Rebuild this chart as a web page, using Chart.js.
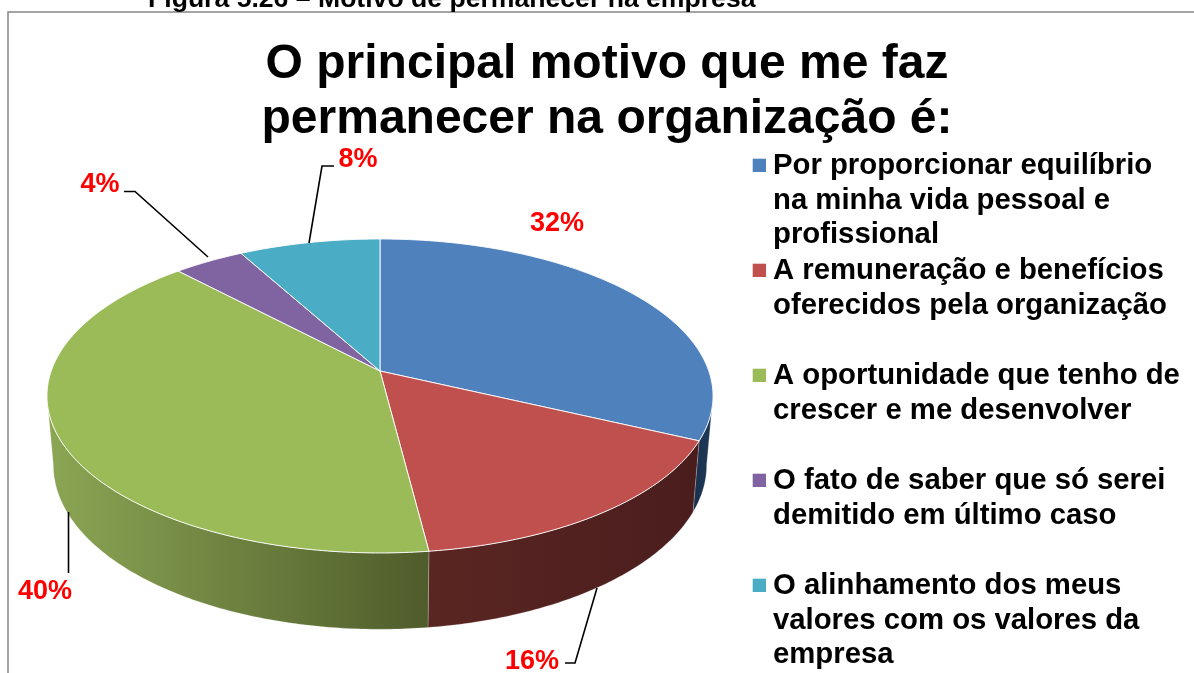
<!DOCTYPE html>
<html><head><meta charset="utf-8">
<style>html,body{margin:0;padding:0;background:#fff;overflow:hidden}
#w{position:absolute;left:0;top:0;width:1194px;height:673px}</style>
<script src="https://cdn.jsdelivr.net/npm/chart.js@4"></script></head>
<body><div id="w"><canvas id="c" width="1194" height="673"></canvas></div>
<script>
const titleLines=["O principal motivo que me faz","permanecer na organização é:"];
const caption="Figura 5.26 – Motivo de permanecer na empresa";
const categories=[["Por proporcionar equilíbrio","na minha vida pessoal e","profissional"],["A remuneração e benefícios","oferecidos pela organização",""],["A oportunidade que tenho de","crescer e me desenvolver",""],["O fato de saber que só serei","demitido em último caso",""],["O alinhamento dos meus","valores com os valores da","empresa"]];
const values=[32,16,40,4,8];
const topColors=["#4f81bd","#c0504d","#9bbb59","#8064a2","#4bacc6"];
const sideDark=[["#1a304c","#1d3a58"],["#5a2622","#4a1d1d"],["#8ba654","#4f5c2b"],["#3f3150","#3f3150"],["#25586a","#25586a"]];
const labelTexts=["32%","16%","40%","4%","8%"];
const labelPos=[[557,224],[532,662],[45,592],[100,185],[358,160]];
const leaders=[[],[[565,663],[575,663],[597,588]],[[68.5,512],[68.5,573]],[[124,191.5],[135,191.5],[208,257]],[[334,166],[322,166],[309,243]]];
const FONT='"Liberation Sans", Arial, sans-serif';
const LEGEND_SIZE=29.3,LEGEND_BOX=4,LEGEND_PAD=1.2,LEGEND_TEXT_X=773,LEGEND_TOP=151.4,MARK=13.3,MARK_X=752.7;
const K=0.159,CX=380,CY=371,A=328.8,B=153,CY2=439,A2=322.5,B2=160;
function upperPt(t){const u=Math.sin(t),v=-Math.cos(t),w=1-K*v;return [CX+A*u/w,CY+B*v/w];}
function lowerPt(t){const u=Math.sin(t),v=-Math.cos(t),w=1-K*v;return [CX+A2*u/w,CY2+B2*v/w];}
const toT=a=>a+Math.PI/2;
class Arc3D extends Chart.ArcElement{
  draw(ctx){
    const s=toT(this.startAngle),e=toT(this.endAngle);
    ctx.beginPath();ctx.moveTo(CX,CY);
    const n=Math.max(8,Math.ceil((e-s)*80));
    for(let i=0;i<=n;i++){const p=upperPt(s+(e-s)*i/n);ctx.lineTo(p[0],p[1]);}
    ctx.closePath();ctx.fillStyle=this.options.backgroundColor;ctx.fill();
    ctx.strokeStyle='rgba(255,255,255,0.9)';ctx.lineWidth=1;ctx.stroke();
  }
}
Arc3D.id='arc3d';Arc3D.defaults=Chart.ArcElement.defaults;
class Pie3D extends Chart.PieController{}
Pie3D.id='pie3d';Pie3D.defaults=Object.assign({},Chart.PieController.defaults,{dataElementType:'arc3d'});
Pie3D.overrides=Chart.PieController.overrides;
Chart.register(Arc3D,Pie3D);
const deco={id:'deco',
 afterLayout(chart){
  const l=chart.legend;
  l.left=LEGEND_TEXT_X-LEGEND_PAD-LEGEND_BOX-LEGEND_SIZE/2;
  l.right=1194;
  l.top=LEGEND_TOP-LEGEND_PAD;
  l.bottom=673;
 },
 beforeDatasetsDraw(chart){
  const ctx=chart.ctx,meta=chart.getDatasetMeta(0);
  const lo=Math.acos(-K),hi=2*Math.PI-lo;
  meta.data.forEach((el,i)=>{
    const s=Math.max(toT(el.startAngle),lo),e=Math.min(toT(el.endAngle),hi);
    if(e<=s)return;
    const n=Math.ceil((e-s)*80);const tp=[],bp=[];
    for(let j=0;j<=n;j++){const t=s+(e-s)*j/n;tp.push(upperPt(t));bp.push(lowerPt(t));}
    const xs=tp.concat(bp).map(p=>p[0]);
    const x0=Math.min(...xs),x1=Math.max(...xs);
    const g=ctx.createLinearGradient(x0,0,x1,0);
    g.addColorStop(0,sideDark[i][0]);g.addColorStop(1,sideDark[i][1]);
    ctx.beginPath();tp.forEach((p,j)=>j?ctx.lineTo(p[0],p[1]):ctx.moveTo(p[0],p[1]));
    bp.reverse().forEach(p=>ctx.lineTo(p[0],p[1]));ctx.closePath();
    ctx.fillStyle=g;ctx.fill();
    ctx.strokeStyle='rgba(255,255,255,0.35)';ctx.lineWidth=0.6;ctx.stroke();
  });
 },
 beforeDraw(chart){
  const ctx=chart.ctx;ctx.save();
  ctx.strokeStyle='#868686';ctx.lineWidth=1.5;
  ctx.beginPath();ctx.moveTo(8,673);ctx.lineTo(8,12);ctx.lineTo(1194,12);ctx.stroke();
  ctx.fillStyle='#000';ctx.font='bold 26.6px '+FONT;ctx.textAlign='left';ctx.textBaseline='alphabetic';
  ctx.fillText(caption,148,7);
  ctx.restore();
 },
 afterDraw(chart){
  const ctx=chart.ctx;ctx.save();
  chart.legend.legendHitBoxes.forEach((b,i)=>{
    ctx.fillStyle=topColors[i];
    ctx.fillRect(MARK_X,b.top+LEGEND_SIZE/2-MARK/2-0.7,MARK,MARK);
  });
  ctx.restore();
 },
 afterDatasetsDraw(chart){
  const ctx=chart.ctx;ctx.save();
  ctx.strokeStyle='#000';ctx.lineWidth=1.6;
  leaders.forEach(l=>{if(!l.length)return;ctx.beginPath();l.forEach((p,j)=>j?ctx.lineTo(p[0],p[1]):ctx.moveTo(p[0],p[1]));ctx.stroke();});
  ctx.fillStyle='#ff0000';ctx.font='bold 27px '+FONT;ctx.textAlign='center';ctx.textBaseline='middle';
  labelTexts.forEach((t,i)=>ctx.fillText(t,labelPos[i][0],labelPos[i][1]));
  ctx.restore();
 }};
new Chart(document.getElementById('c'),{
 type:'pie3d',
 data:{labels:categories,datasets:[{data:values,backgroundColor:topColors,borderWidth:0}]},
 plugins:[deco],
 options:{responsive:false,animation:false,rotation:0,
  layout:{padding:{left:20,top:0,right:0,bottom:0}},
  plugins:{
   tooltip:{enabled:false},
   title:{display:true,text:titleLines,color:'#000',font:{family:FONT,size:48,weight:'bold',lineHeight:1.15},padding:{top:37,bottom:0}},
   legend:{display:true,position:'right',align:'start',
    labels:{color:'#000',boxWidth:LEGEND_BOX,boxHeight:1,padding:LEGEND_PAD,font:{family:FONT,size:LEGEND_SIZE,weight:'bold',lineHeight:34.6/LEGEND_SIZE},
     generateLabels(chart){return categories.map((c,i)=>({text:c,fontColor:'#000',fillStyle:'rgba(0,0,0,0)',strokeStyle:'rgba(0,0,0,0)',lineWidth:0,index:i}));}}}
  }}
});
</script></body></html>
